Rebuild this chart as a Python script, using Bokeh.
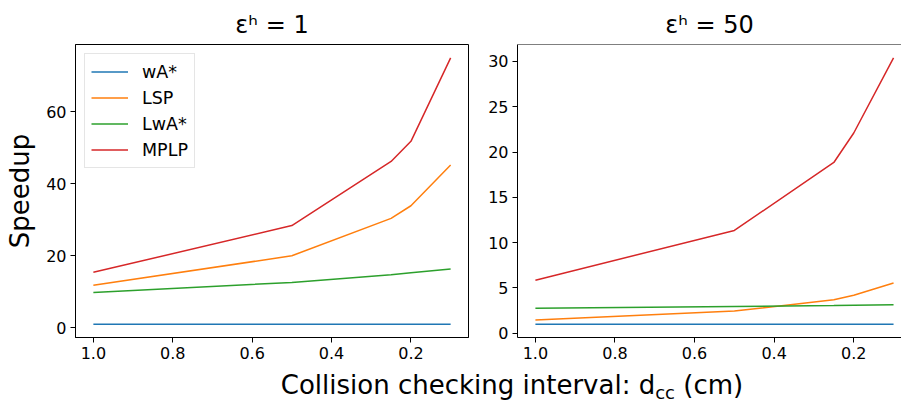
from bokeh.plotting import figure
from bokeh.layouts import row, column
from bokeh.models import Range1d, FixedTicker, NumeralTickFormatter, Span, Div, Legend, LegendItem
from bokeh.embed import file_html
from bokeh.resources import INLINE

# ---- data ----
intervals = [1.0, 0.5, 0.25, 0.2, 0.1]
series_names = ["wA*", "LSP", "LwA*", "MPLP"]
colors = ["#1f77b4", "#ff7f0e", "#2ca02c", "#d62728"]

wastar_e1 = [1.0, 1.0, 1.0, 1.0, 1.0]
lsp_e1 = [11.8, 20.0, 30.4, 33.9, 45.2]
lwastar_e1 = [9.8, 12.6, 14.7, 15.3, 16.3]
mplp_e1 = [15.4, 28.4, 46.2, 51.8, 75.0]

wastar_e50 = [1.0, 1.0, 1.0, 1.0, 1.0]
lsp_e50 = [1.45, 2.45, 3.7, 4.2, 5.55]
lwastar_e50 = [2.75, 2.95, 3.05, 3.1, 3.15]
mplp_e50 = [5.85, 11.35, 18.85, 22.1, 30.4]

x_ticks = [1.0, 0.8, 0.6, 0.4, 0.2]
y_ticks_e1 = [0, 20, 40, 60]
y_ticks_e50 = [0, 5, 10, 15, 20, 25, 30]

FONT = "DejaVu Sans"


def yrange(*series):
    lo = min(min(s) for s in series)
    hi = max(max(s) for s in series)
    m = 0.05 * (hi - lo)
    return Range1d(lo - m, hi + m)


def style(p, yticks):
    p.xgrid.visible = False
    p.ygrid.visible = False
    p.background_fill_color = "white"
    p.border_fill_color = "white"
    p.title.text_font = FONT
    p.title.text_font_size = "24px"
    p.title.text_font_style = "normal"
    p.title.align = "center"
    p.title.text_color = "black"
    p.title.standoff = 12
    for ax in (p.xaxis[0], p.yaxis[0]):
        ax.major_tick_in = 0
        ax.major_tick_out = 5
        ax.minor_tick_line_color = None
        ax.major_label_text_font = FONT
        ax.major_label_text_font_size = "16px"
        ax.major_label_text_color = "black"
        ax.axis_line_color = "black"
        ax.major_tick_line_color = "black"
        ax.major_label_standoff = 4
    p.xaxis[0].ticker = FixedTicker(ticks=x_ticks)
    p.xaxis[0].formatter = NumeralTickFormatter(format="0.0")
    p.yaxis[0].ticker = FixedTicker(ticks=yticks)


yr1 = yrange(wastar_e1, lsp_e1, lwastar_e1, mplp_e1)
p1 = figure(width=470, height=365, output_backend="svg", toolbar_location=None,
            x_range=Range1d(1.045, 0.055), y_range=yr1,
            title="εʰ = 1", min_border_left=75, min_border_right=2,
            min_border_top=44, min_border_bottom=28)
style(p1, y_ticks_e1)
p1.outline_line_color = "black"
p1.outline_line_alpha = 1
p1.yaxis[0].axis_label = "Speedup"
p1.yaxis[0].axis_label_text_font = FONT
p1.yaxis[0].axis_label_text_font_size = "26px"
p1.yaxis[0].axis_label_text_font_style = "normal"
p1.yaxis[0].axis_label_text_color = "black"
p1.yaxis[0].axis_label_standoff = 8

items = []
for name, col, ys in zip(series_names, colors, [wastar_e1, lsp_e1, lwastar_e1, mplp_e1]):
    r = p1.line(intervals, ys, line_color=col, line_width=1.5)
    items.append(LegendItem(label=name, renderers=[r]))
leg = Legend(items=items, location="top_left")
leg.margin = 9
leg.padding = 6
leg.spacing = 3
leg.glyph_width = 37
leg.glyph_height = 23
leg.label_height = 23
leg.label_standoff = 14
leg.label_text_font = FONT
leg.label_text_font_size = "17.5px"
leg.label_text_color = "black"
leg.border_line_color = "#cccccc"
leg.border_line_width = 1
leg.background_fill_alpha = 0.8
p1.add_layout(leg)

yr2 = yrange(wastar_e50, lsp_e50, lwastar_e50, mplp_e50)
p2 = figure(width=431, height=365, output_backend="svg", toolbar_location=None,
            x_range=Range1d(1.045, 0.080), y_range=yr2,
            title="εʰ = 50", min_border_left=47, min_border_right=0,
            min_border_top=44, min_border_bottom=28)
style(p2, y_ticks_e50)
p2.outline_line_color = None
for col, ys in zip(colors, [wastar_e50, lsp_e50, lwastar_e50, mplp_e50]):
    p2.line(intervals, ys, line_color=col, line_width=1.5)
p2.add_layout(Span(location=yr2.end, dimension="width", line_color="black", line_width=1))

xlabel = Div(
    text='<div style="width:788px;margin-left:113px;margin-top:0px;text-align:center;line-height:30px;'
         'font-family:\'DejaVu Sans\';font-size:26px;color:black;white-space:nowrap;">'
         'Collision checking interval: d<span style="font-size:18px;position:relative;top:5px">cc</span> (cm)</div>',
    width=901, height=37)

layout = column(row(p1, p2, spacing=0), xlabel, spacing=0)
open("out.html", "w").write(file_html(layout, INLINE))
